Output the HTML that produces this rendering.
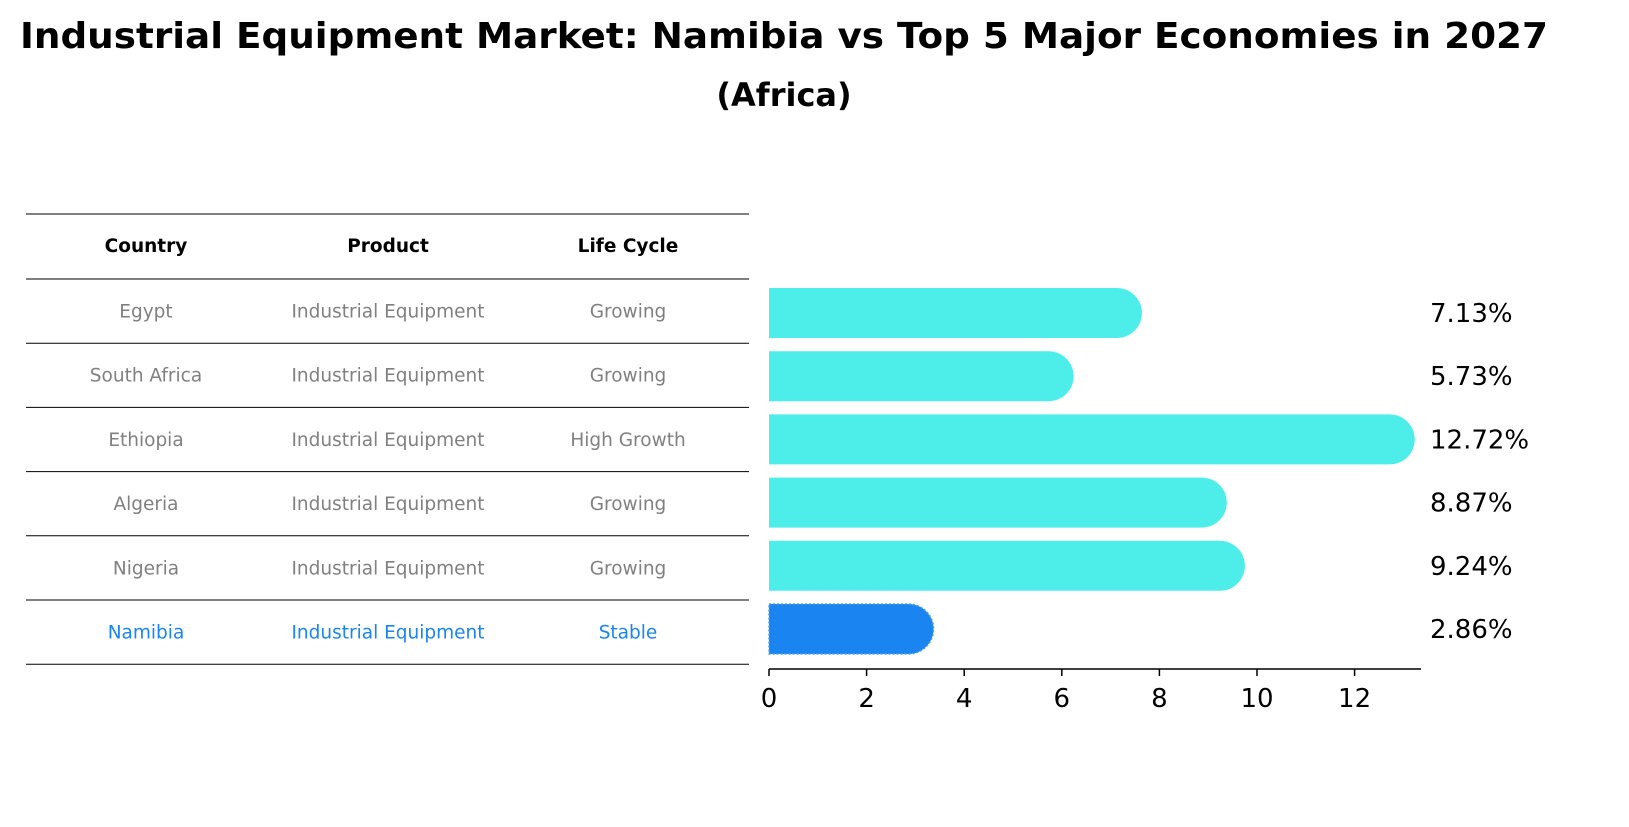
<!DOCTYPE html>
<html><head><meta charset="utf-8"><style>
body{margin:0;background:#fff;font-family:"DejaVu Sans","Liberation Sans",sans-serif;}
svg text{font-family:"DejaVu Sans","Liberation Sans",sans-serif;}
</style></head><body>
<svg id="chart" width="1629" height="823" viewBox="0 0 1629 823">
<text x="784" y="48" text-anchor="middle" font-size="36" font-weight="bold" textLength="1528" lengthAdjust="spacingAndGlyphs">Industrial Equipment Market: Namibia vs Top 5 Major Economies in 2027</text>
<text x="784" y="106" text-anchor="middle" font-size="32" font-weight="bold">(Africa)</text>
<g id="table"></g>
<g id="bars"></g>
</svg>
<script>
const countries=["Egypt","South Africa","Ethiopia","Algeria","Nigeria","Namibia"];
const products=["Industrial Equipment","Industrial Equipment","Industrial Equipment","Industrial Equipment","Industrial Equipment","Industrial Equipment"];
const lifeCycles=["Growing","Growing","High Growth","Growing","Growing","Stable"];
const values=[7.13,5.73,12.72,8.87,9.24,2.86];
const valueLabels=["7.13%","5.73%","12.72%","8.87%","9.24%","2.86%"];
const ticks=[0,2,4,6,8,10,12];
const highlight="Namibia";

const NS="http://www.w3.org/2000/svg";
function mk(tag,attrs,parent,txt){const e=document.createElementNS(NS,tag);for(const k in attrs)e.setAttribute(k,attrs[k]);if(txt!==undefined)e.textContent=txt;parent.appendChild(e);return e;}
const x=v=>769+v*48.8;
const rowY=i=>313+i*63.2;
const tbl=document.getElementById('table');
const lineYs=[214,279];
for(let i=0;i<countries.length;i++)lineYs.push(279+(i+1)*64.2);
lineYs.forEach((ly,i)=>{
 const l=mk('line',{x1:26,x2:749,y1:ly,y2:ly,stroke:'#000','stroke-width':1},tbl);
 
 
});
const cx=[146,388,628];
["Country","Product","Life Cycle"].forEach((h,j)=>{
 const t=mk('text',{x:cx[j],y:252,'text-anchor':'middle','font-size':18.5,'font-weight':'bold'},tbl,h);
 
 
});
countries.forEach((c,i)=>{
 const cy=311+i*64.2+6.5;
 const col=c===highlight?'#1a85f0':'#808080';
 [c,products[i],lifeCycles[i]].forEach((v,j)=>{
  const t=mk('text',{x:cx[j],y:cy,'text-anchor':'middle','font-size':18.5,fill:col},tbl,v);
  
  
 });
});
const g=document.getElementById('bars');
const h=50;
values.forEach((v,i)=>{
 const y0=rowY(i)-h/2;const xe=x(v);
 const hl=countries[i]===highlight;
 const col=hl?'#1a85f0':'#4deeea';
 const p=mk('path',{d:`M769 ${y0} H${xe} A25 25 0 0 1 ${xe} ${y0+h} H769 Z`,fill:col},g);
 if(hl){p.setAttribute('stroke','#4d9ff0');p.setAttribute('stroke-dasharray','2 2');p.setAttribute('stroke-width','1.5');}
 
 
 const t=mk('text',{x:1430,y:rowY(i)+9,'font-size':26},g,valueLabels[i]);
 
 
});
const ax=mk('line',{x1:769,x2:1421,y1:669,y2:669,stroke:'#000','stroke-width':1.5},g);


ticks.forEach(tv=>{
 const tl=mk('line',{x1:x(tv),x2:x(tv),y1:669,y2:676,stroke:'#000','stroke-width':1.5},g);
 
 
 const tt=mk('text',{x:x(tv),y:707,'text-anchor':'middle','font-size':26},g,String(tv));
 
 
});
</script>
</body></html>
